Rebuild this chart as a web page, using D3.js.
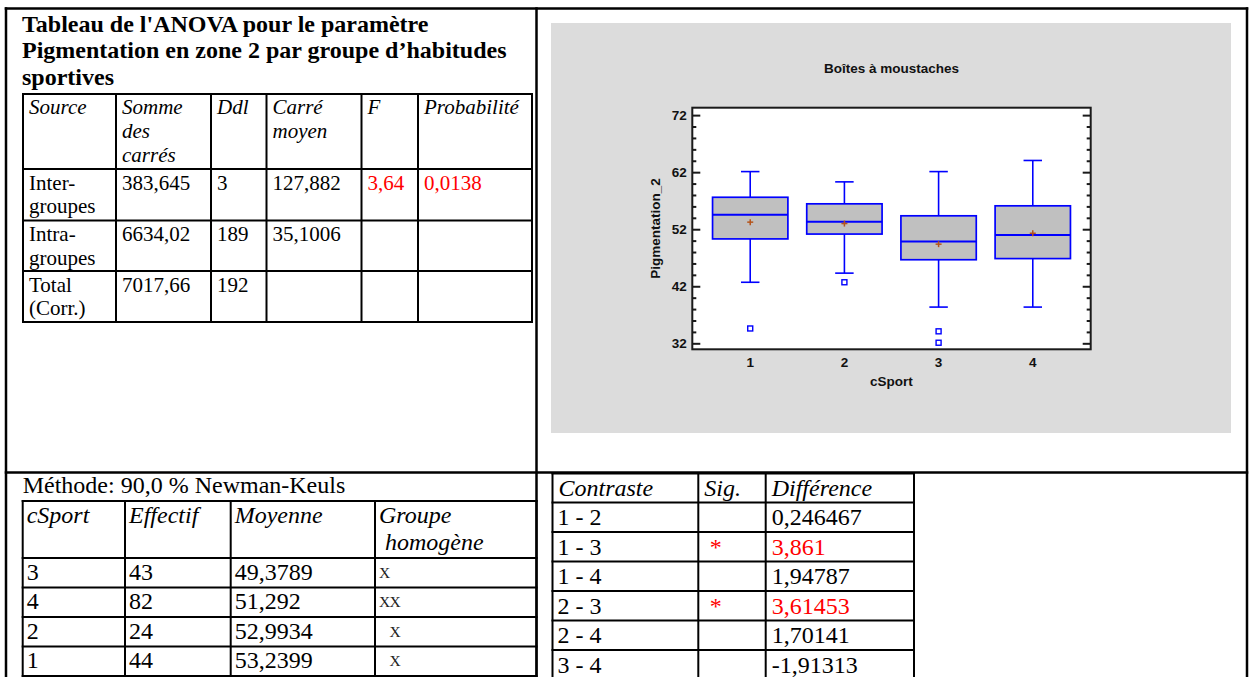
<!DOCTYPE html>
<html><head><meta charset="utf-8">
<script src="https://cdn.jsdelivr.net/npm/d3@7"></script>
<style>html,body{margin:0;padding:0;background:#fff;overflow:hidden}</style>
</head><body>
<svg id="c" width="1250" height="677"></svg>
<script>
// ---------------- DATA ----------------
const titleLines = ["Tableau de l'ANOVA pour le paramètre", "Pigmentation en zone 2 par groupe d’habitudes", "sportives"];
const anovaHeader = [["Source"], ["Somme", "des", "carrés"], ["Ddl"], ["Carré", "moyen"], ["F"], ["Probabilité"]];
const anovaSource = [["Inter-", "groupes"], ["Intra-", "groupes"], ["Total", "(Corr.)"]];
const anovaSS = ["383,645", "6634,02", "7017,66"];
const anovaDf = ["3", "189", "192"];
const anovaMS = ["127,882", "35,1006", ""];
const anovaF = ["3,64", "", ""];
const anovaP = ["0,0138", "", ""];

const chartTitle = "Boîtes à moustaches";
const xLabel = "cSport";
const yLabel = "Pigmentation_2";
const groups = ["1", "2", "3", "4"];
const whiskerLow = [42.7, 44.3, 38.35, 38.35];
const q1 = [50.3, 51.15, 46.65, 46.85];
const median = [54.55, 53.3, 49.85, 51.0];
const q3 = [57.6, 56.45, 54.35, 56.1];
const whiskerHigh = [62.1, 60.3, 62.1, 64.05];
const means = [53.2399, 52.9934, 49.3789, 51.292];
const outliers = [[34.6], [42.7], [34.1, 32.1], []];
const yTicks = [32, 42, 52, 62, 72];
const yMinorTicks = [34, 36, 38, 40, 44, 46, 48, 50, 54, 56, 58, 60, 64, 66, 68, 70];

const methodText = "Méthode: 90,0 % Newman-Keuls";
const nkHeader = [["cSport"], ["Effectif"], ["Moyenne"], ["Groupe", " homogène"]];
const nkGroup = ["3", "4", "2", "1"];
const nkCount = ["43", "82", "24", "44"];
const nkMean = ["49,3789", "51,292", "52,9934", "53,2399"];
const nkHomog = ["X", "XX", " X", " X"];

const contrastHeader = ["Contraste", "Sig.", "Différence"];
const contrasts = ["1 - 2", "1 - 3", "1 - 4", "2 - 3", "2 - 4", "3 - 4"];
const contrastSig = ["", "*", "", "*", "", ""];
const contrastDiff = ["0,246467", "3,861", "1,94787", "3,61453", "1,70141", "-1,91313"];

// ---------------- HELPERS ----------------
const svg = d3.select("#c");
const SERIF = "'Liberation Serif','Times New Roman',Times,serif";
const SANS = "'Liberation Sans',Arial,Helvetica,sans-serif";
const RED = "#ff0000";

function txt(g, x, y, s, o = {}) {
  return g.append("text").attr("x", x).attr("y", y).text(s)
    .attr("font-family", o.family || SERIF)
    .attr("font-size", o.size || 21)
    .attr("font-style", o.italic ? "italic" : "normal")
    .attr("font-weight", o.bold ? "bold" : "normal")
    .attr("fill", o.color || "#000")
    .attr("text-anchor", o.anchor || "start")
    .style("white-space", "pre");
}
function line(g, x1, y1, x2, y2, w = 2, c = "#000") {
  g.append("line").attr("x1", x1).attr("y1", y1).attr("x2", x2).attr("y2", y2)
    .attr("stroke", c).attr("stroke-width", w).attr("stroke-linecap", "square");
}
function grid(g, cols, rows, w = 2) {
  rows.forEach(r => line(g, cols[0], r, cols[cols.length - 1], r, w));
  cols.forEach(c => line(g, c, rows[0], c, rows[rows.length - 1], w));
}

// ---------------- OUTER FRAME ----------------
const frame = svg.append("g");
line(frame, 6, 8.5, 1247, 8.5, 2.5);
line(frame, 6, 8.5, 6, 680, 2.5);
line(frame, 1247, 8.5, 1247, 680, 2.5);
line(frame, 536.5, 8.5, 536.5, 680, 2.5);
line(frame, 6, 472.5, 1247, 472.5, 2.5);

// ---------------- ANOVA TABLE ----------------
const tA = svg.append("g");
titleLines.forEach((s, i) => txt(tA, 22, 31.5 + i * 26.8, s, { size: 24, bold: true }));
const aCols = [23, 116, 211, 266.5, 361.5, 418, 532];
const aRows = [94, 169, 220.5, 271, 322];
grid(tA, aCols, aRows, 2);
anovaHeader.forEach((lines, j) => lines.forEach((s, k) =>
  txt(tA, aCols[j] + 6, aRows[0] + 20 + k * 24, s, { italic: true })));
const anovaBody = [anovaSource, anovaSS.map(d => [d]), anovaDf.map(d => [d]), anovaMS.map(d => [d]), anovaF.map(d => [d]), anovaP.map(d => [d])];
anovaBody.forEach((col, j) => col.forEach((lines, i) => lines.forEach((s, k) =>
  txt(tA, aCols[j] + 6, aRows[i + 1] + 20.5 + k * 23.5, s, { color: (j >= 4 ? RED : "#000") }))));

// ---------------- BOX PLOT ----------------
const gC = svg.append("g");
gC.append("rect").attr("x", 551).attr("y", 23).attr("width", 680).attr("height", 410).attr("fill", "#dcdcdc");
const X0 = 692.3, X1 = 1090.7, Y0 = 349.3, Y1 = 107.7;
gC.append("rect").attr("x", X0).attr("y", Y1).attr("width", X1 - X0).attr("height", Y0 - Y1).attr("fill", "#fff");

const x = d3.scaleBand().domain(groups).range([X0, X1]).paddingInner(0.2).paddingOuter(0.215);
const y = d3.scaleLinear().domain([30.95, 73.3]).range([Y0, Y1]);

function styleAxis(g) {
  g.select(".domain").remove();
  g.selectAll(".tick line").attr("stroke", "#1a1a1a").attr("stroke-width", 2);
  g.selectAll(".tick text").attr("font-family", SANS).attr("font-weight", "bold")
    .attr("font-size", 13.5).attr("fill", "#111");
}
styleAxis(gC.append("g").attr("transform", `translate(${X0},0)`)
  .call(d3.axisLeft(y).tickValues(yTicks).tickSize(-8).tickPadding(5.5).tickFormat(d3.format("d"))));
styleAxis(gC.append("g").attr("transform", `translate(${X0},0)`)
  .call(d3.axisLeft(y).tickValues(yMinorTicks).tickSize(-4).tickFormat("")));
styleAxis(gC.append("g").attr("transform", `translate(${X1},0)`)
  .call(d3.axisRight(y).tickValues(yTicks).tickSize(-8).tickFormat("")));
styleAxis(gC.append("g").attr("transform", `translate(${X1},0)`)
  .call(d3.axisRight(y).tickValues(yMinorTicks).tickSize(-4).tickFormat("")));
styleAxis(gC.append("g").attr("transform", `translate(0,${Y0})`)
  .call(d3.axisBottom(x).tickSize(0).tickPadding(8.5)));

const BLUE = "#0000ff";
const bw = x.bandwidth();
const cap = bw * 0.245;
groups.forEach((g, i) => {
  const cx = x(g) + bw / 2;
  const gg = gC.append("g");
  gg.append("line").attr("x1", cx).attr("x2", cx).attr("y1", y(q3[i])).attr("y2", y(whiskerHigh[i])).attr("stroke", BLUE).attr("stroke-width", 1.6);
  gg.append("line").attr("x1", cx).attr("x2", cx).attr("y1", y(q1[i])).attr("y2", y(whiskerLow[i])).attr("stroke", BLUE).attr("stroke-width", 1.6);
  gg.append("line").attr("x1", cx - cap / 2).attr("x2", cx + cap / 2).attr("y1", y(whiskerHigh[i])).attr("y2", y(whiskerHigh[i])).attr("stroke", BLUE).attr("stroke-width", 1.6);
  gg.append("line").attr("x1", cx - cap / 2).attr("x2", cx + cap / 2).attr("y1", y(whiskerLow[i])).attr("y2", y(whiskerLow[i])).attr("stroke", BLUE).attr("stroke-width", 1.6);
  gg.append("rect").attr("x", x(g)).attr("width", bw).attr("y", y(q3[i])).attr("height", y(q1[i]) - y(q3[i]))
    .attr("fill", "#c0c0c0").attr("stroke", BLUE).attr("stroke-width", 1.7);
  gg.append("line").attr("x1", x(g)).attr("x2", x(g) + bw).attr("y1", y(median[i])).attr("y2", y(median[i])).attr("stroke", BLUE).attr("stroke-width", 2);
  const my = y(means[i]);
  gg.append("line").attr("x1", cx - 3).attr("x2", cx + 3).attr("y1", my).attr("y2", my).attr("stroke", "#b5541b").attr("stroke-width", 1.5);
  gg.append("line").attr("x1", cx).attr("x2", cx).attr("y1", my - 3).attr("y2", my + 3).attr("stroke", "#b5541b").attr("stroke-width", 1.5);
  outliers[i].forEach(v => gg.append("rect").attr("x", cx - 2.5).attr("y", y(v) - 2.5).attr("width", 5).attr("height", 5)
    .attr("fill", "#fff").attr("stroke", BLUE).attr("stroke-width", 1.4));
});
gC.append("rect").attr("x", X0).attr("y", Y1).attr("width", X1 - X0).attr("height", Y0 - Y1)
  .attr("fill", "none").attr("stroke", "#1a1a1a").attr("stroke-width", 2);

txt(gC, (X0 + X1) / 2, 72.5, chartTitle, { family: SANS, bold: true, size: 13.5, anchor: "middle", color: "#111" });
txt(gC, (X0 + X1) / 2, 385.5, xLabel, { family: SANS, bold: true, size: 13.5, anchor: "middle", color: "#111" });
txt(gC, 0, 0, yLabel, { family: SANS, bold: true, size: 13.5, anchor: "middle", color: "#111" })
  .attr("transform", `translate(660,${(Y0 + Y1) / 2}) rotate(-90)`);

// ---------------- NEWMAN-KEULS TABLE ----------------
const tN = svg.append("g");
txt(tN, 22.7, 493, methodText, { size: 24 });
const nCols = [22.7, 125, 230.7, 375, 536.5];
const nRows = [501, 558, 587.5, 617, 646.5, 676];
grid(tN, nCols, nRows, 2);
nkHeader.forEach((lines, j) => lines.forEach((s, k) =>
  txt(tN, nCols[j] + 4, nRows[0] + 22 + k * 27, s, { size: 24, italic: true })));
[nkGroup, nkCount, nkMean].forEach((col, j) => col.forEach((s, i) =>
  txt(tN, nCols[j] + 4, nRows[i + 1] + 21.5, s, { size: 24 })));
// homogeneous-group marks: fixed-pitch columns of serif "X"
nkHomog.forEach((s, i) => s.split("").forEach((ch, k) => {
  if (ch !== " ") txt(tN, nCols[3] + 4 + k * 10.5, nRows[i + 1] + 19.5, ch, { size: 15.5, color: "#222" });
}));

// ---------------- CONTRAST TABLE ----------------
const tC = svg.append("g");
const cCols = [552.5, 698.3, 765.7, 914];
const cRows = [473.5, 502.5, 532, 561.5, 591, 620.5, 650, 679.5];
grid(tC, cCols, cRows, 2);
contrastHeader.forEach((s, j) => txt(tC, cCols[j] + 6, cRows[0] + 22.5, s, { size: 24, italic: true }));
contrasts.forEach((s, i) => {
  txt(tC, cCols[0] + 5, cRows[i + 1] + 22.5, s, { size: 24 });
  txt(tC, cCols[1] + 11.5, cRows[i + 1] + 22.5, contrastSig[i], { size: 24, color: RED });
  txt(tC, cCols[2] + 6, cRows[i + 1] + 22.5, contrastDiff[i], { size: 24, color: contrastSig[i] ? RED : "#000" });
});
</script>
</body></html>
